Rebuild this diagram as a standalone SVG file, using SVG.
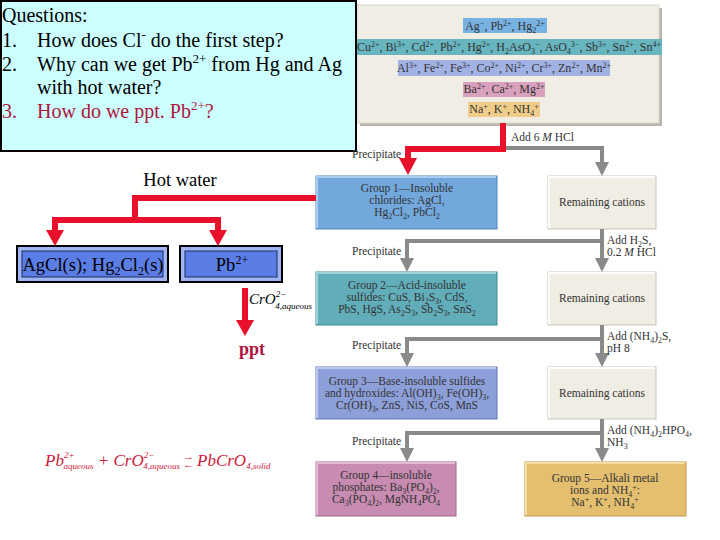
<svg xmlns="http://www.w3.org/2000/svg" width="720" height="540" viewBox="0 0 720 540">
<style>
.q{font-family:"Liberation Serif",serif;font-size:20px;fill:#000}
.f{font-family:"Liberation Serif",serif;font-size:11.5px;fill:#333}
.r{font-family:"Liberation Serif",serif;font-size:12px;fill:#333}
.g{fill:none;stroke:#8a8a8a;stroke-width:4}
.red{fill:none;stroke:#e8102a;stroke-width:6}
.lb{font-family:"Liberation Serif",serif;font-size:18.5px;fill:#000}
.eq{font-family:"Liberation Serif",serif;font-style:italic;fill:#d0203c}
</style>
<rect width="720" height="540" fill="#fff"/>

<!-- top panel -->
<g id="panel">
<rect x="360" y="8" width="302" height="118" fill="#b9b6ae"/>
<rect x="357" y="5" width="302" height="118" fill="#f0ede4" stroke="#dcd8ce" stroke-width="1"/>
<rect x="463" y="18" width="84" height="15" fill="#78b2e2"/>
<text class="r" x="505" y="30" text-anchor="middle">Ag<tspan dy="-4" font-size="8">−</tspan><tspan dy="4">, Pb</tspan><tspan dy="-4" font-size="8">2+</tspan><tspan dy="4">, Hg</tspan><tspan dy="3" font-size="8">2</tspan><tspan dy="-7" font-size="8">2+</tspan></text>
<rect x="357" y="39" width="305" height="16" fill="#67b5bf"/>
<text class="r" x="509" y="51" text-anchor="middle">Cu<tspan dy="-4" font-size="8">2+</tspan><tspan dy="4">, Bi</tspan><tspan dy="-4" font-size="8">3+</tspan><tspan dy="4">, Cd</tspan><tspan dy="-4" font-size="8">2+</tspan><tspan dy="4">, Pb</tspan><tspan dy="-4" font-size="8">2+</tspan><tspan dy="4">, Hg</tspan><tspan dy="-4" font-size="8">2+</tspan><tspan dy="4">, H</tspan><tspan dy="3" font-size="8">2</tspan><tspan dy="-3">AsO</tspan><tspan dy="3" font-size="8">3</tspan><tspan dy="-7" font-size="8">−</tspan><tspan dy="4">, AsO</tspan><tspan dy="3" font-size="8">4</tspan><tspan dy="-7" font-size="8">3−</tspan><tspan dy="4">, Sb</tspan><tspan dy="-4" font-size="8">3+</tspan><tspan dy="4">, Sn</tspan><tspan dy="-4" font-size="8">2+</tspan><tspan dy="4">, Sn</tspan><tspan dy="-4" font-size="8">4+</tspan></text>
<rect x="398" y="60" width="212" height="16" fill="#a2b2e4"/>
<text class="r" x="504" y="72" text-anchor="middle">Al<tspan dy="-4" font-size="8">3+</tspan><tspan dy="4">, Fe</tspan><tspan dy="-4" font-size="8">2+</tspan><tspan dy="4">, Fe</tspan><tspan dy="-4" font-size="8">3+</tspan><tspan dy="4">, Co</tspan><tspan dy="-4" font-size="8">2+</tspan><tspan dy="4">, Ni</tspan><tspan dy="-4" font-size="8">2+</tspan><tspan dy="4">, Cr</tspan><tspan dy="-4" font-size="8">3+</tspan><tspan dy="4">, Zn</tspan><tspan dy="-4" font-size="8">2+</tspan><tspan dy="4">, Mn</tspan><tspan dy="-4" font-size="8">2+</tspan></text>
<rect x="463" y="82" width="82" height="15" fill="#d9a1bd"/>
<text class="r" x="504" y="93" text-anchor="middle">Ba<tspan dy="-4" font-size="8">2+</tspan><tspan dy="4">, Ca</tspan><tspan dy="-4" font-size="8">2+</tspan><tspan dy="4">, Mg</tspan><tspan dy="-4" font-size="8">2+</tspan></text>
<rect x="468" y="102" width="72" height="15" fill="#f0cd8a"/>
<text class="r" x="504" y="113" text-anchor="middle">Na<tspan dy="-4" font-size="8">+</tspan><tspan dy="4">, K</tspan><tspan dy="-4" font-size="8">+</tspan><tspan dy="4">, NH</tspan><tspan dy="3" font-size="8">4</tspan><tspan dy="-7" font-size="8">+</tspan></text>
</g>

<!-- question box -->
<g id="questions">
<rect x="1" y="1" width="355" height="150" fill="#ccffff" stroke="#000" stroke-width="2"/>
<text class="q" x="2" y="22">Questions:</text>
<text class="q" x="2" y="47">1.</text>
<text class="q" x="37" y="47">How does Cl<tspan dy="-8" font-size="13">-</tspan><tspan dy="8"> do the first step?</tspan></text>
<text class="q" x="2" y="71">2.</text>
<text class="q" x="37" y="71">Why can we get Pb<tspan dy="-8" font-size="13">2+</tspan><tspan dy="8">  from Hg and Ag</tspan></text>
<text class="q" x="37" y="94">with hot water?</text>
<text class="q" x="2" y="118" style="fill:#b0143c">3.</text>
<text class="q" x="37" y="118" style="fill:#b0143c">How do we ppt. Pb<tspan dy="-8" font-size="13">2+</tspan><tspan dy="8">?</tspan></text>
</g>

<!-- flowchart nodes -->
<g id="group1">
<rect x="316" y="176" width="181" height="53" fill="#72a8dc" stroke="#4f86bb" stroke-width="1"/>
<path d="M317,228 L317,177 L496,177" fill="none" stroke="#a9cdef" stroke-width="2"/>
<text class="f" x="407" y="192" text-anchor="middle">Group 1—Insoluble</text>
<text class="f" x="407" y="204" text-anchor="middle">chlorides: AgCl,</text>
<text class="f" x="407" y="216" text-anchor="middle">Hg<tspan dy="3" font-size="8">2</tspan><tspan dy="-3">Cl</tspan><tspan dy="3" font-size="8">2</tspan><tspan dy="-3">, PbCl</tspan><tspan dy="3" font-size="8">2</tspan></text>
</g>
<g id="rem1">
<rect x="548" y="176" width="108" height="53" fill="#f0ede4" stroke="#c9c5bb" stroke-width="1"/>
<path d="M549,228 L549,177 L655,177" fill="none" stroke="#fff" stroke-width="2"/>
<text class="f" x="602" y="206" text-anchor="middle">Remaining cations</text>
</g>
<g id="group2">
<rect x="316" y="272" width="181" height="53" fill="#62adba" stroke="#3f8a96" stroke-width="1"/>
<path d="M317,324 L317,273 L496,273" fill="none" stroke="#9fd3db" stroke-width="2"/>
<text class="f" x="407" y="289" text-anchor="middle">Group 2—Acid-insoluble</text>
<text class="f" x="407" y="301" text-anchor="middle">sulfides: CuS, Bi<tspan dy="3" font-size="8">2</tspan><tspan dy="-3">S</tspan><tspan dy="3" font-size="8">3</tspan><tspan dy="-3">, CdS,</tspan></text>
<text class="f" x="407" y="313" text-anchor="middle">PbS, HgS, As<tspan dy="3" font-size="8">2</tspan><tspan dy="-3">S</tspan><tspan dy="3" font-size="8">3</tspan><tspan dy="-3">, Sb</tspan><tspan dy="3" font-size="8">2</tspan><tspan dy="-3">S</tspan><tspan dy="3" font-size="8">3</tspan><tspan dy="-3">, SnS</tspan><tspan dy="3" font-size="8">2</tspan></text>
</g>
<g id="rem2">
<rect x="548" y="272" width="108" height="53" fill="#f0ede4" stroke="#c9c5bb" stroke-width="1"/>
<path d="M549,324 L549,273 L655,273" fill="none" stroke="#fff" stroke-width="2"/>
<text class="f" x="602" y="302" text-anchor="middle">Remaining cations</text>
</g>
<g id="group3">
<rect x="316" y="367" width="181" height="52" fill="#8d9fd9" stroke="#6678b5" stroke-width="1"/>
<path d="M317,418 L317,368 L496,368" fill="none" stroke="#bcc8ee" stroke-width="2"/>
<text class="f" x="407" y="385" text-anchor="middle">Group 3—Base-insoluble sulfides</text>
<text class="f" x="407" y="397" text-anchor="middle">and hydroxides: Al(OH)<tspan dy="3" font-size="8">3</tspan><tspan dy="-3">, Fe(OH)</tspan><tspan dy="3" font-size="8">3</tspan><tspan dy="-3">,</tspan></text>
<text class="f" x="407" y="409" text-anchor="middle">Cr(OH)<tspan dy="3" font-size="8">3</tspan><tspan dy="-3">, ZnS, NiS, CoS, MnS</tspan></text>
</g>
<g id="rem3">
<rect x="548" y="367" width="108" height="52" fill="#f0ede4" stroke="#c9c5bb" stroke-width="1"/>
<path d="M549,418 L549,368 L655,368" fill="none" stroke="#fff" stroke-width="2"/>
<text class="f" x="602" y="397" text-anchor="middle">Remaining cations</text>
</g>
<g id="group4">
<rect x="316" y="462" width="140" height="54" fill="#c88bb1" stroke="#a06a8c" stroke-width="1"/>
<path d="M317,515 L317,463 L455,463" fill="none" stroke="#e4b9d3" stroke-width="2"/>
<text class="f" x="386" y="479" text-anchor="middle">Group 4—insoluble</text>
<text class="f" x="386" y="491" text-anchor="middle">phosphates: Ba<tspan dy="3" font-size="8">3</tspan><tspan dy="-3">(PO</tspan><tspan dy="3" font-size="8">4</tspan><tspan dy="-3">)</tspan><tspan dy="3" font-size="8">2</tspan><tspan dy="-3">,</tspan></text>
<text class="f" x="386" y="503" text-anchor="middle">Ca<tspan dy="3" font-size="8">3</tspan><tspan dy="-3">(PO</tspan><tspan dy="3" font-size="8">4</tspan><tspan dy="-3">)</tspan><tspan dy="3" font-size="8">2</tspan><tspan dy="-3">, MgNH</tspan><tspan dy="3" font-size="8">4</tspan><tspan dy="-3">PO</tspan><tspan dy="3" font-size="8">4</tspan></text>
</g>
<g id="group5">
<rect x="525" y="462" width="161" height="54" fill="#e4bf6f" stroke="#bf9a4d" stroke-width="1"/>
<path d="M526,515 L526,463 L685,463" fill="none" stroke="#f5dca3" stroke-width="2"/>
<text class="f" x="605" y="482" text-anchor="middle">Group 5—Alkali metal</text>
<text class="f" x="605" y="494" text-anchor="middle">ions and NH<tspan dy="3" font-size="8">4</tspan><tspan dy="-7" font-size="8">+</tspan><tspan dy="4">:</tspan></text>
<text class="f" x="605" y="506" text-anchor="middle">Na<tspan dy="-4" font-size="8">+</tspan><tspan dy="4">, K</tspan><tspan dy="-4" font-size="8">+</tspan><tspan dy="4">, NH</tspan><tspan dy="3" font-size="8">4</tspan><tspan dy="-7" font-size="8">+</tspan></text>
</g>

<!-- left nodes -->
<g id="agcl">
<rect x="17" y="246" width="151" height="36" fill="#9fb4f2" stroke="#000" stroke-width="2"/>
<rect x="22" y="251" width="141" height="26" fill="#5b7ee6" stroke="#1a2a66" stroke-width="1"/>
<text class="lb" x="93" y="271" text-anchor="middle">AgCl(s); Hg<tspan dy="4" font-size="12">2</tspan><tspan dy="-4">Cl</tspan><tspan dy="4" font-size="12">2</tspan><tspan dy="-4">(s)</tspan></text>
</g>
<g id="pb">
<rect x="180" y="246" width="102" height="36" fill="#9fb4f2" stroke="#000" stroke-width="2"/>
<rect x="185" y="251" width="92" height="26" fill="#5b7ee6" stroke="#1a2a66" stroke-width="1"/>
<text class="lb" x="232" y="271" text-anchor="middle">Pb<tspan dy="-7" font-size="12">2+</tspan></text>
</g>

<!-- connectors -->
<g id="connectors">
<path class="g" d="M503,148 L602,148 L602,164"/>
<path d="M595,162 L609,162 L602,176 Z" fill="#8a8a8a"/>
<path class="g" d="M602,229 L602,260"/>
<path d="M595,258 L609,258 L602,272 Z" fill="#8a8a8a"/>
<path class="g" d="M602,241 L407,241 L407,260"/>
<path d="M400,258 L414,258 L407,272 Z" fill="#8a8a8a"/>
<path class="g" d="M602,325 L602,355"/>
<path d="M595,353 L609,353 L602,367 Z" fill="#8a8a8a"/>
<path class="g" d="M602,339 L407,339 L407,355"/>
<path d="M400,353 L414,353 L407,367 Z" fill="#8a8a8a"/>
<path class="g" d="M602,419 L602,450"/>
<path d="M595,448 L609,448 L602,462 Z" fill="#8a8a8a"/>
<path class="g" d="M602,433 L407,433 L407,450"/>
<path d="M400,448 L414,448 L407,462 Z" fill="#8a8a8a"/>

<path class="red" d="M503,123 L503,149 L408,149 L408,160"/>
<path d="M399,158 L417,158 L408,175 Z" fill="#e8102a"/>

<path class="red" d="M316,198 L135,198 L135,220"/>
<path class="red" d="M55,220 L218,220"/>
<path class="red" d="M55,217 L55,232"/>
<path d="M46,230 L64,230 L55,246 Z" fill="#e8102a"/>
<path class="red" d="M218,217 L218,232"/>
<path d="M209,230 L227,230 L218,246 Z" fill="#e8102a"/>
<path class="red" d="M245,288 L245,322"/>
<path d="M236,320 L254,320 L245,336 Z" fill="#e8102a"/>
</g>

<!-- labels -->
<g id="labels">
<text class="f" x="511" y="141">Add 6 <tspan font-style="italic">M</tspan> HCl</text>
<text class="f" x="352" y="158">Precipitate</text>
<text class="f" x="607" y="244">Add H<tspan dy="3" font-size="8">2</tspan><tspan dy="-3">S,</tspan></text>
<text class="f" x="607" y="256">0.2 <tspan font-style="italic">M</tspan> HCl</text>
<text class="f" x="352" y="255">Precipitate</text>
<text class="f" x="607" y="340">Add (NH<tspan dy="3" font-size="8">4</tspan><tspan dy="-3">)</tspan><tspan dy="3" font-size="8">2</tspan><tspan dy="-3">S,</tspan></text>
<text class="f" x="607" y="352">pH 8</text>
<text class="f" x="352" y="349">Precipitate</text>
<text class="f" x="607" y="434">Add (NH<tspan dy="3" font-size="8">4</tspan><tspan dy="-3">)</tspan><tspan dy="3" font-size="8">2</tspan><tspan dy="-3">HPO</tspan><tspan dy="3" font-size="8">4</tspan><tspan dy="-3">,</tspan></text>
<text class="f" x="607" y="446">NH<tspan dy="3" font-size="8">3</tspan></text>
<text class="f" x="352" y="445">Precipitate</text>

<text class="lb" x="180" y="186" text-anchor="middle">Hot water</text>
<text font-family="Liberation Serif, serif" font-style="italic" font-size="15" x="249" y="304" fill="#000">CrO<tspan font-size="9" dy="-7">2−</tspan><tspan font-size="9" dx="-11" dy="12">4,aqueous</tspan></text>
<text font-family="Liberation Serif, serif" font-size="18" font-weight="bold" x="252" y="355" text-anchor="middle" fill="#b0143c">ppt</text>

<text class="eq" x="45" y="466" font-size="17">Pb<tspan font-size="9" dy="-8">2+</tspan><tspan font-size="9" dx="-11" dy="11">aqueous</tspan><tspan dy="-3"> + CrO</tspan><tspan font-size="9" dy="-8">2−</tspan><tspan font-size="9" dx="-11" dy="11">4,aqueous</tspan><tspan font-size="11" dx="3" dy="-9">→</tspan><tspan font-size="11" dx="-11" dy="8">←</tspan><tspan dx="3" dy="-2">PbCrO</tspan><tspan font-size="9" dy="3">4,solid</tspan></text>
</g>
</svg>
